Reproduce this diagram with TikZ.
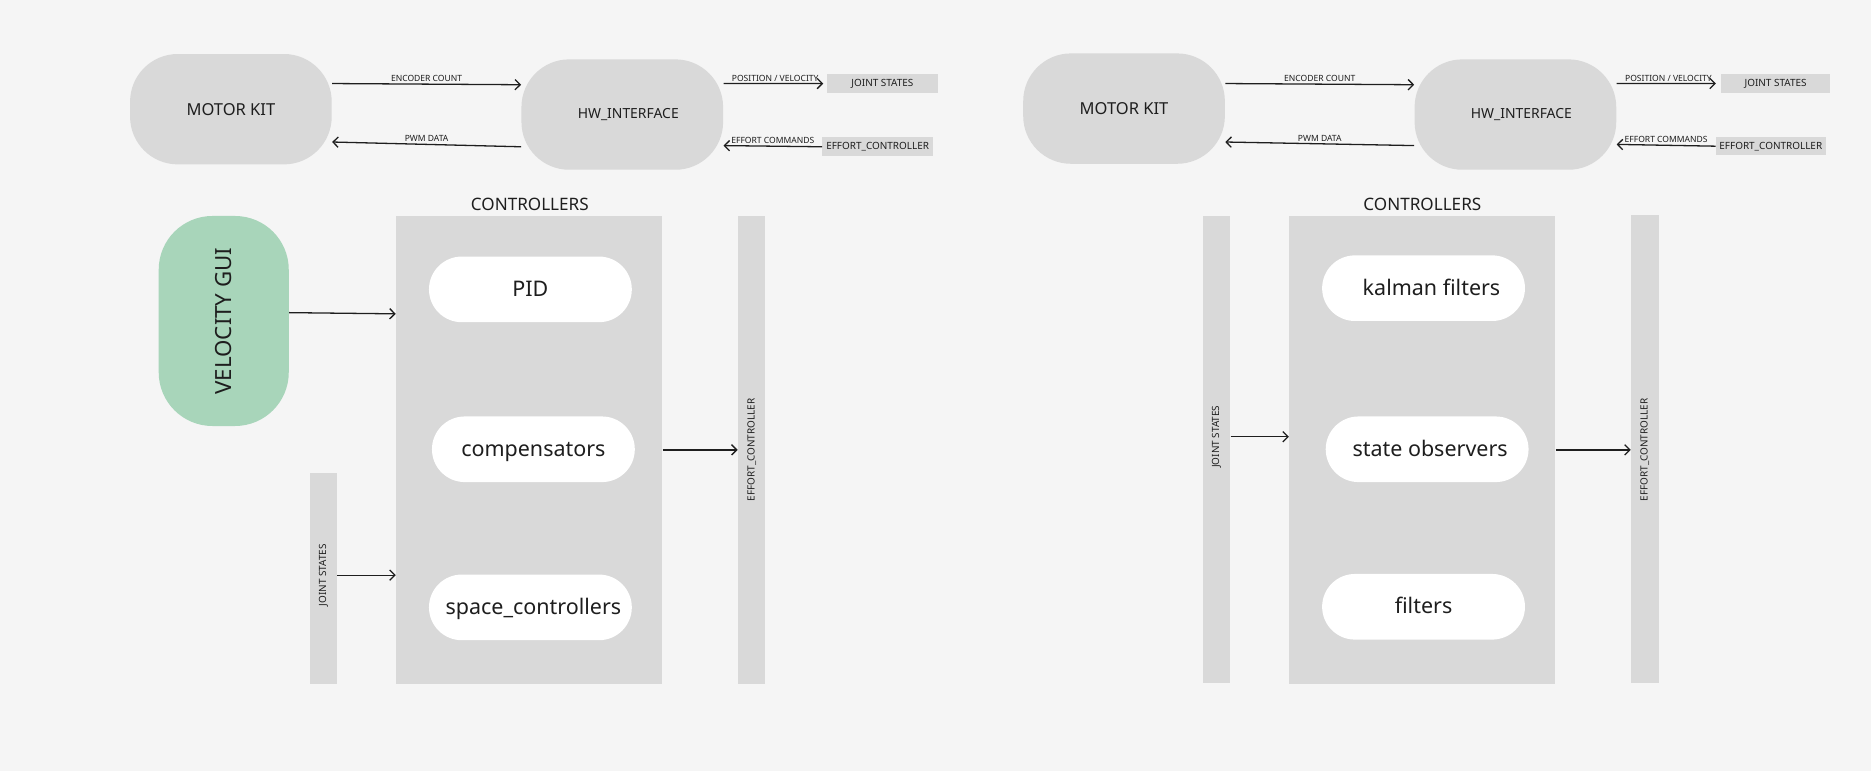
\documentclass[tikz,border=0pt]{standalone}
\usepackage{fontspec}
\setmainfont{Noto Sans}
\usetikzlibrary{arrows.meta,calc}
\definecolor{bg}{HTML}{F5F5F5}
\definecolor{boxgray}{HTML}{D9D9D9}
\definecolor{guigreen}{HTML}{A8D5BA}
\definecolor{ink}{HTML}{1E1E1E}
\begin{document}
\begin{tikzpicture}[x=0.6pt,y=-0.6pt,
  every node/.style={text=ink, inner sep=0pt},
  hwbox/.style={fill=boxgray, rounded corners=24pt, minimum width=101.4pt, minimum height=55.5pt},
  mkfont/.style={font=\fontsize{8.3}{10}\selectfont},
  hwfont/.style={font=\fontsize{7.0}{9}\selectfont},
  tagbox/.style={fill=boxgray, minimum width=55.5pt, minimum height=9.6pt, font=\fontsize{5.0}{6}\selectfont},
  lbl/.style={font=\fontsize{4.3}{5}\selectfont, above=0.9pt},
  ctrlbox/.style={fill=boxgray, minimum width=133.8pt, minimum height=235.2pt},
  pill/.style={fill=white, rounded corners=16.5pt, minimum width=102pt, minimum height=33pt, text height=0.72em, text depth=0pt, font=\fontsize{10.8}{13}\selectfont},
  bar/.style={fill=boxgray, minimum width=13.8pt},
  barfont/.style={rotate=90, font=\fontsize{5.0}{6}\selectfont},
  title/.style={font=\fontsize{8.6}{10}\selectfont},
  arr/.style={draw=ink, line width=0.65pt, -{Straight Barb[length=2.6pt,width=5.2pt]}},
]
\fill[bg] (0,0) rectangle (1568,646);
\useasboundingbox (0,0) rectangle (1568,646);

% ================= LEFT =================
\node[hwbox, mkfont] (mk1) at (193.5,91.5) {MOTOR KIT\hspace{2pt}};
\node[hwbox, hwfont] (hw1) at (521.5,96) {\hspace{6pt}HW\_INTERFACE};
\node[tagbox] (js1) at (739.5,70) {JOINT STATES};
\node[tagbox] (ec1) at (735.5,123) {EFFORT\_CONTROLLER};

\draw[arr] ([yshift=12.9pt]mk1.east) -- node[lbl]{ENCODER COUNT} ([yshift=15pt]hw1.west);
\draw[arr] ([yshift=-16.2pt]hw1.west) -- node[lbl]{PWM DATA} ([yshift=-16.5pt]mk1.east);
\draw[arr, shorten >=1.8pt] ([yshift=15.6pt]hw1.east) -- node[lbl]{POSITION / VELOCITY} (js1.west);
\draw[arr] (ec1.west) -- node[lbl]{EFFORT COMMANDS} ([yshift=-15.6pt]hw1.east);

\node[title] (ct1) at (444,171) {CONTROLLERS};
\node[ctrlbox] (c1) at (443.5,377) {};
\node[pill] (pid) at (444.5,242.5) {PID};
\node[pill] (comp) at (447,376.5) {compensators};
\node[pill] (space) at (444.5,509) {\hspace{3pt}space\_controllers};

\node[fill=guigreen, rounded corners=27pt, minimum width=65.4pt, minimum height=105.6pt] (gui) at (187.5,269) {};
\node[rotate=90, font=\fontsize{11.2}{13}\selectfont] at (gui.center) {VELOCITY GUI};

\node[bar, minimum height=106.2pt] (jsv1) at (271,484.5) {};
\node[barfont] (jst1) at (271,482) {JOINT STATES};
\node[bar, minimum height=235.2pt] (eb1) at (630,377) {};
\node[barfont] (ebt1) at (630,377) {EFFORT\_CONTROLLER};

\draw[arr] ([yshift=4.2pt]gui.east) -- ([yshift=68.4pt]c1.west);
\draw[arr] (jsv1.east |- jst1) -- (c1.west |- jst1);
\draw[arr] (c1.east) -- (eb1.west);

% ================= RIGHT =================
\node[hwbox, mkfont] (mk2) at (942,91) {MOTOR KIT\hspace{3pt}};
\node[hwbox, hwfont] (hw2) at (1270,96) {\hspace{6pt}HW\_INTERFACE};
\node[tagbox, minimum width=55.2pt] (js2) at (1488,70) {JOINT STATES};
\node[tagbox, minimum width=55.2pt, minimum height=9pt] (ec2) at (1484,122.5) {EFFORT\_CONTROLLER};

\draw[arr] ([yshift=12.6pt]mk2.east) -- node[lbl]{ENCODER COUNT} ([yshift=15pt]hw2.west);
\draw[arr] ([yshift=-15.6pt]hw2.west) -- node[lbl]{PWM DATA} ([yshift=-16.8pt]mk2.east);
\draw[arr, shorten >=2.2pt] ([yshift=15.6pt]hw2.east) -- node[lbl]{POSITION / VELOCITY} (js2.west);
\draw[arr] (ec2.west) -- node[lbl]{EFFORT COMMANDS} ([yshift=-15pt]hw2.east);

\node[title] (ct2) at (1192,171) {CONTROLLERS};
\node[ctrlbox] (c2) at (1192,377) {};
\node[pill] (kal) at (1193,241.5) {\hspace{8pt}kalman filters};
\node[pill] (obs) at (1196,376.5) {\hspace{3pt}state observers};
\node[pill] (filt) at (1193,508.5) {filters};

\node[bar, minimum height=234.6pt] (jsv2) at (1019.5,376.5) {};
\node[barfont] (jst2) at (1019.5,366) {JOINT STATES};
\node[bar, minimum height=235.2pt] (eb2) at (1378.5,376) {};
\node[barfont] (ebt2) at (1378.5,377) {EFFORT\_CONTROLLER};

\draw[arr] (jsv2.east |- jst2) -- (c2.west |- jst2);
\draw[arr] (c2.east |- ebt2) -- (eb2.west |- ebt2);
\end{tikzpicture}
\end{document}
